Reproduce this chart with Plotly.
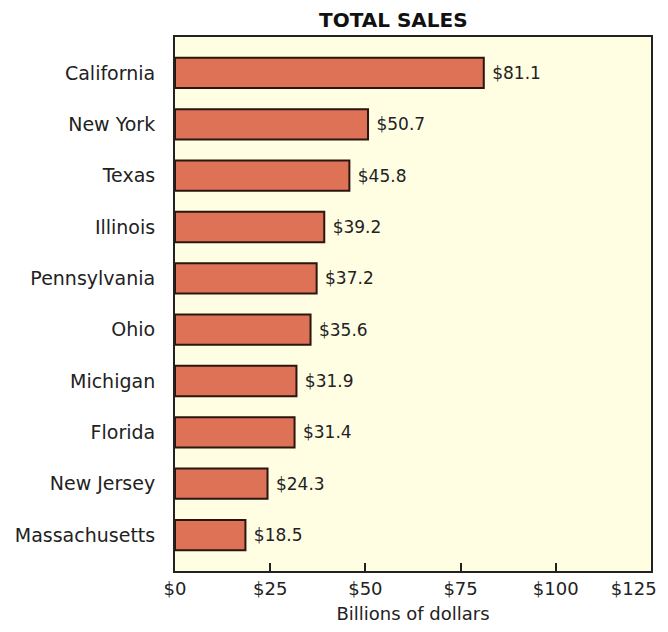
import plotly.graph_objects as go

states = ["California", "New York", "Texas", "Illinois", "Pennsylvania",
          "Ohio", "Michigan", "Florida", "New Jersey", "Massachusetts"]
sales = [81.1, 50.7, 45.8, 39.2, 37.2, 35.6, 31.9, 31.4, 24.3, 18.5]
tick_vals = [0, 25, 50, 75, 100, 125]
tick_text = ["$0", "$25", "$50", "$75", "$100", "$125"]

FONT = "DejaVu Sans, Liberation Sans, sans-serif"
TXT = "#222222"

# keep the last label inside the page by padding it on its right
shown_ticks = tick_text[:-1] + [tick_text[-1] + "\u00a0" * 6]

fig = go.Figure()
fig.add_trace(go.Bar(
    x=sales, y=states, orientation="h",
    width=0.59,
    marker=dict(color="#DE7257", line=dict(color="#2a1510", width=2)),
    text=[f" ${v:.1f}" for v in sales],
    textposition="outside",
    constraintext="none",
    cliponaxis=False,
    textfont=dict(family=FONT, size=17, color=TXT),
    hoverinfo="skip",
))

fig.update_layout(
    width=660, height=616,
    margin=dict(l=167, r=17, t=29, b=53),
    paper_bgcolor="white",
    plot_bgcolor="#FFFDE2",
    showlegend=False,
    font=dict(family=FONT, color=TXT),
    xaxis=dict(
        range=[0, 125.02], tickvals=tick_vals, ticktext=shown_ticks,
        ticks="inside", ticklen=8, tickwidth=2, tickcolor="#222",
        showgrid=False, zeroline=False, automargin=False,
        ticklabeloverflow="allow",
        showline=True, linecolor="#222", linewidth=2, mirror=True,
        tickfont=dict(family=FONT, size=18, color=TXT),
        title=dict(text="Billions of dollars", font=dict(family=FONT, size=18, color=TXT), standoff=12),
    ),
    yaxis=dict(
        categoryorder="array", categoryarray=states,
        range=[9.7, -0.7], automargin=False,
        ticks="", showgrid=False, zeroline=False,
        showline=True, linecolor="#222", linewidth=2, mirror=True,
        ticklabelstandoff=14,
        tickfont=dict(family=FONT, size=19, color=TXT),
    ),
    annotations=[dict(
        text="<b>TOTAL SALES</b>", xref="paper", yref="paper",
        x=0.458, y=1, yshift=17, xanchor="center", yanchor="middle",
        showarrow=False,
        font=dict(family=FONT, size=20, color="#111"),
    )],
)

fig.write_html("out.html")
